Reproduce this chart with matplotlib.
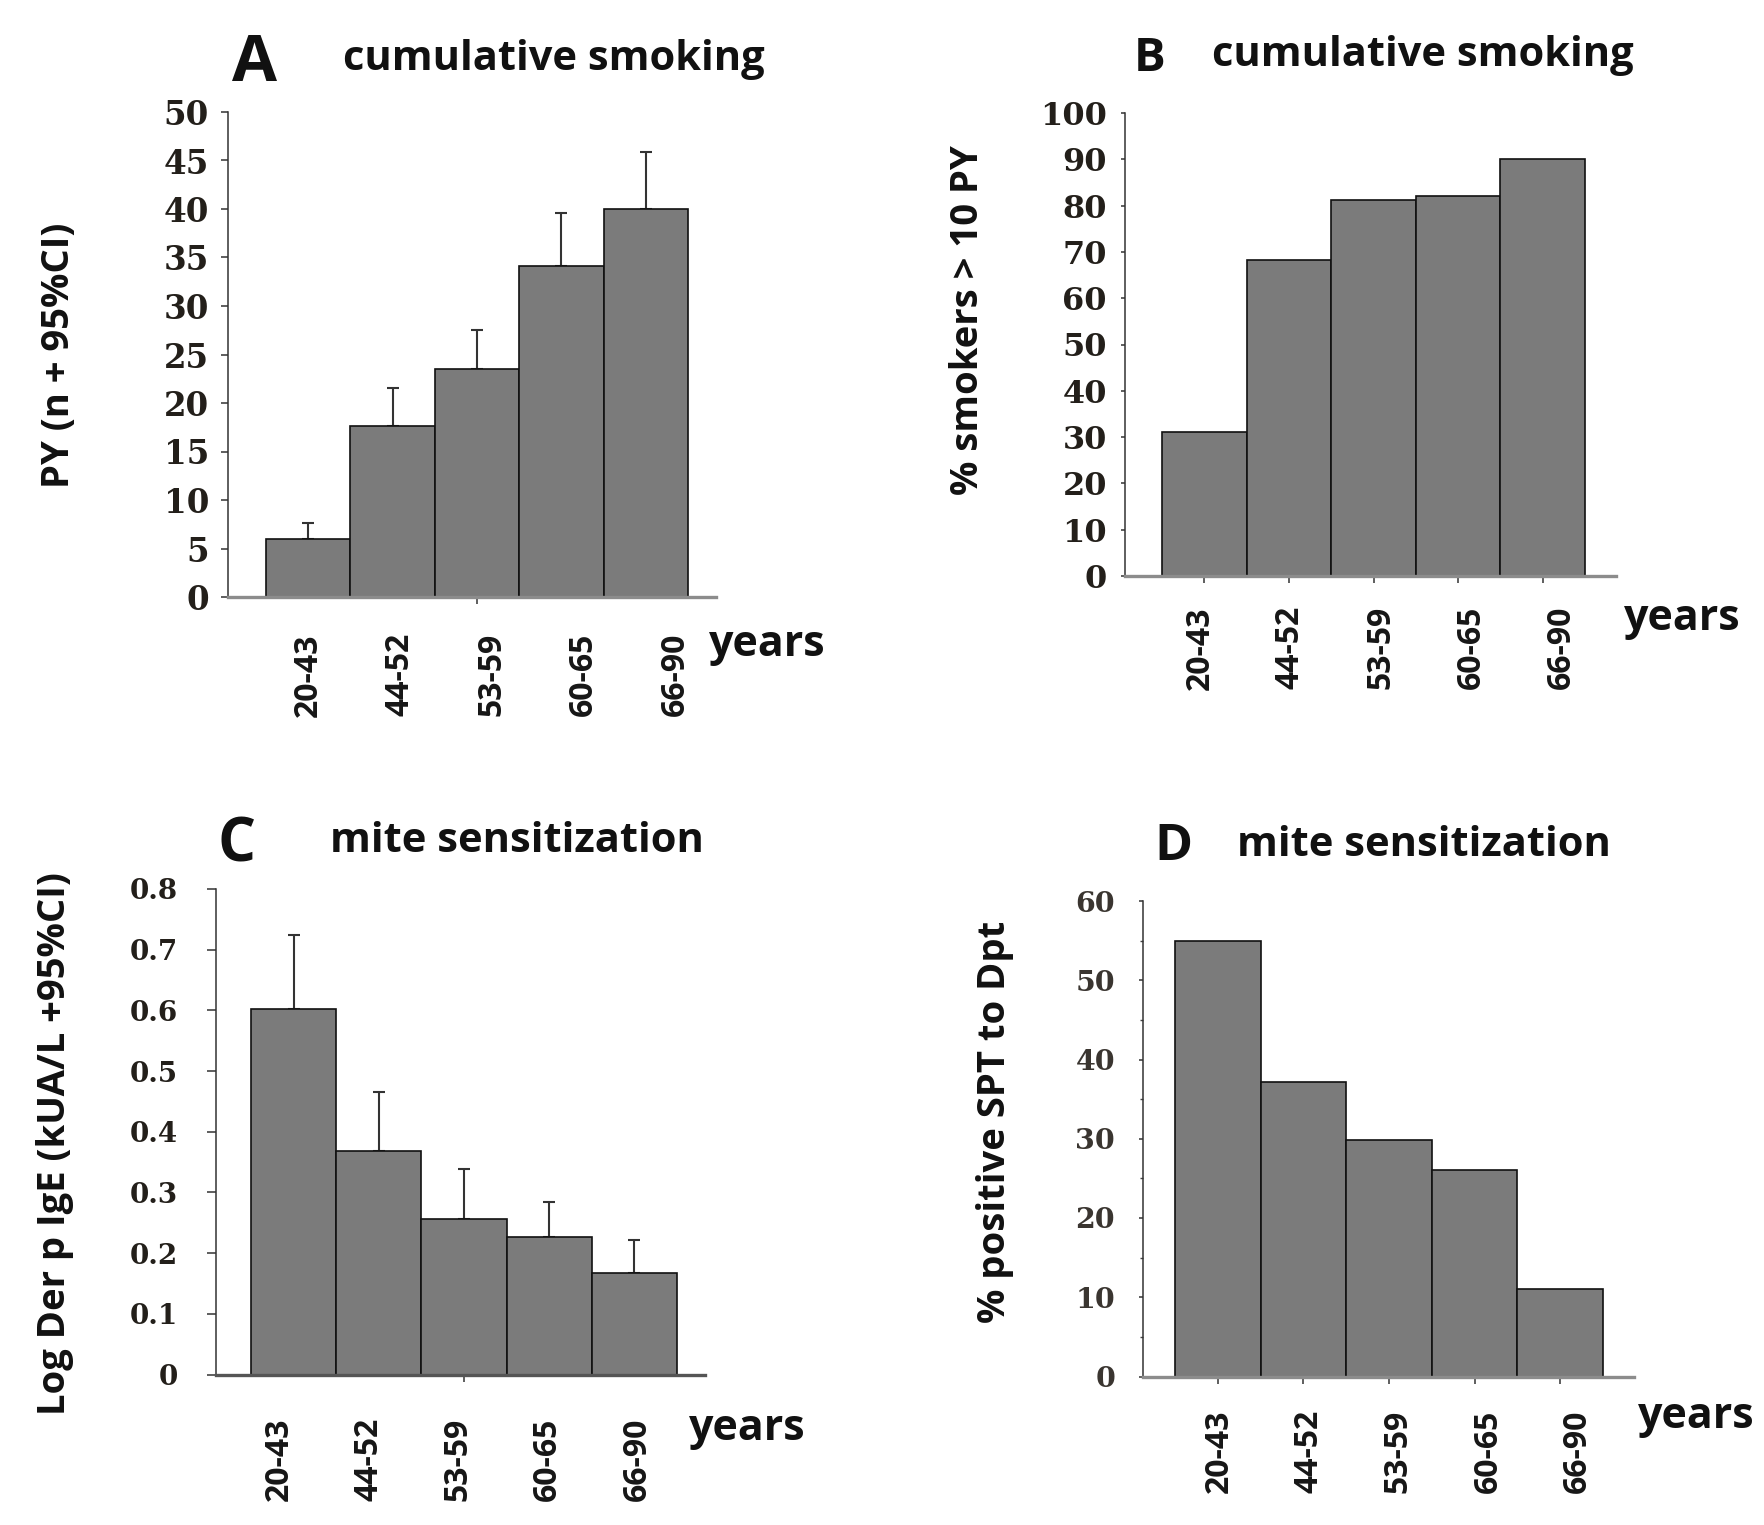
import matplotlib
matplotlib.use("Agg")
import matplotlib.pyplot as plt
import matplotlib.font_manager as fm
from matplotlib.ticker import MultipleLocator, FuncFormatter

W, H = 1765, 1525

# data
age_groups = ["20-43", "44-52", "53-59", "60-65", "66-90"]

py_mean = [6.0, 17.6, 23.5, 34.1, 40.0]
py_upper = [7.6, 21.5, 27.5, 39.6, 45.9]

pct_smokers_10py = [31.2, 68.3, 81.2, 82.1, 90.1]

derp_ige_mean = [0.602, 0.368, 0.257, 0.226, 0.168]
derp_ige_upper = [0.724, 0.465, 0.339, 0.285, 0.221]

pct_spt_dpt = [54.9, 37.1, 29.8, 26.0, 11.1]


installed = {f.name for f in fm.fontManager.ttflist}
SANS = "Open Sans" if "Open Sans" in installed else "DejaVu Sans"
if "Liberation Sans Narrow" in installed:
    NARROW, NARROW_SIZE = "Liberation Sans Narrow", 28.5
else:
    NARROW, NARROW_SIZE = SANS, 23
SERIF = "DejaVu Serif"

BAR_COLOR = "#7b7b7b"


def fx(px):
    return px / W


def fy(py):
    return 1 - py / H


def make_axes(fig, left, top, right, bottom):
    return fig.add_axes([fx(left), fy(bottom), (right - left) / W, (bottom - top) / H])


def draw_panel(ax, values, upper, ylim, major, xlim, lab_off, lab_step, tick_idx,
               ylab_size, ylab_pad, ytick_len, xlab_pad, fmt=None, minor=None,
               lab_color="#231f1a", xspine="#8c8c8c"):
    x = list(range(len(values)))
    ax.bar(x, values, width=1.0, color=BAR_COLOR, edgecolor="#111111", linewidth=1.2, zorder=2)
    if upper is not None:
        err = [u - v for u, v in zip(upper, values)]
        ax.errorbar(x, values, yerr=[[0] * len(values), err], fmt="none",
                    ecolor="#333333", elinewidth=1.5, capsize=4, capthick=1.5, zorder=1)

    ax.set_xlim(*xlim)
    ax.set_ylim(*ylim)
    for s in ["top", "right"]:
        ax.spines[s].set_visible(False)
    ax.spines["left"].set_color("#333333")
    ax.spines["left"].set_linewidth(1.1)
    ax.spines["bottom"].set_color(xspine)
    ax.spines["bottom"].set_linewidth(2.4)

    ax.yaxis.set_major_locator(MultipleLocator(major))
    if minor:
        ax.yaxis.set_minor_locator(MultipleLocator(minor))
        ax.tick_params(axis="y", which="minor", length=2.5, width=1, color="#444444")
    if fmt:
        ax.yaxis.set_major_formatter(FuncFormatter(fmt))
    ax.tick_params(axis="y", which="major", length=ytick_len, width=1.1, color="#333333",
                   pad=ylab_pad, labelsize=ylab_size, labelcolor=lab_color)
    for t in ax.get_yticklabels():
        t.set_fontfamily(SERIF)
        t.set_fontweight("bold")

    lab_pos = [lab_off + i * lab_step for i in x]
    ax.set_xticks(lab_pos)
    ax.set_xticklabels(age_groups, rotation=90, fontsize=NARROW_SIZE,
                       fontfamily=NARROW, fontweight="bold", color="#161616")
    ax.tick_params(axis="x", which="major", length=0, pad=xlab_pad)
    ax.set_xticks([x[i] for i in tick_idx], minor=True)
    ax.tick_params(axis="x", which="minor", length=5, width=1.1, color="#333333")


fig = plt.figure(figsize=(W / 100, H / 100), dpi=100)

# A
axA = make_axes(fig, 228, 112, 716, 597)
draw_panel(axA, py_mean, py_upper, (0, 50), 5, (-0.95, 4.83), 0.0, 1.086, [2],
           23.5, 8.6, 5, 26)
# B
axB = make_axes(fig, 1125, 113, 1616, 576)
draw_panel(axB, pct_smokers_10py, None, (0, 100), 10, (-0.937, 4.866), -0.05, 1.067,
           [0, 1, 2, 3, 4], 23, 10, 3, 21.6)
# C
axC = make_axes(fig, 216, 889, 705, 1374.5)
draw_panel(axC, derp_ige_mean, derp_ige_upper, (0, 0.8), 0.1, (-0.911, 4.829), -0.17, 1.05,
           [2], 20, 21, 6.5, 31,
           fmt=lambda v, p: "0" if abs(v) < 1e-9 else f"{v:.1f}", xspine="#555555")
# D
axD = make_axes(fig, 1143, 901, 1634, 1376.5)
draw_panel(axD, pct_spt_dpt, None, (0, 60), 10, (-0.874, 4.862), 0.02, 1.045,
           [0, 1, 2, 3, 4], 20.5, 17, 3, 23.8, minor=5, lab_color="#3a3530")

# panel letters and titles
title_kw = dict(fontfamily=SANS, fontweight="bold", color="#111111", va="baseline", ha="left")
fig.text(fx(232), fy(81), "A", fontsize=47, **title_kw)
fig.text(fx(343), fy(70), "cumulative smoking", fontsize=30, **title_kw)
fig.text(fx(1134), fy(71), "B", fontsize=34, **title_kw)
fig.text(fx(1212), fy(66), "cumulative smoking", fontsize=30, **title_kw)
fig.text(fx(218), fy(862), "C", fontsize=43, **title_kw)
fig.text(fx(330), fy(852), "mite sensitization", fontsize=30, **title_kw)
fig.text(fx(1154), fy(860), "D", fontsize=37, **title_kw)
fig.text(fx(1237), fy(856), "mite sensitization", fontsize=30, **title_kw)

# y axis labels
ylab_kw = dict(fontfamily=SANS, fontweight="bold", color="#111111", rotation=90,
               ha="center", va="center", fontsize=27.5)
fig.text(fx(59), fy(355), "PY (n + 95%CI)", **ylab_kw)
fig.text(fx(968), fy(320), "% smokers > 10 PY", **ylab_kw)
fig.text(fx(55), fy(1144), "Log Der p IgE (kUA/L +95%CI)", **ylab_kw)
fig.text(fx(995), fy(1122), "% positive SPT to Dpt", **ylab_kw)

# "years" labels
yr_kw = dict(fontfamily=SANS, fontweight="bold", color="#111111", va="baseline",
             ha="left", fontsize=31)
fig.text(fx(709), fy(656), "years", **yr_kw)
fig.text(fx(1624), fy(630), "years", **yr_kw)
fig.text(fx(689), fy(1440), "years", **yr_kw)
fig.text(fx(1638), fy(1428), "years", **yr_kw)

fig.savefig("out.png", dpi=100)
